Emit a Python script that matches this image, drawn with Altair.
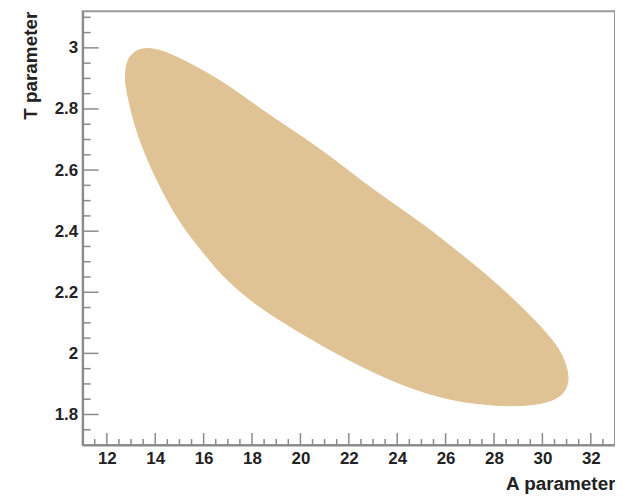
import altair as alt
import pandas as pd

# Contour outline (A parameter, T parameter), traced clockwise from the top apex
contour_a = [13.73, 14.42, 15.79, 17.16, 18.54, 19.91, 21.28, 22.66, 24.03, 25.40,
             26.4, 27.46, 28.84, 29.94, 30.76, 31.15,
             30.95, 30.21, 28.84, 27.46, 26.09, 24.72, 23.5, 21.8, 19.78, 18.26,
             16.89, 15.79, 15.0, 14.3, 13.75, 13.2, 12.9, 12.74, 12.8, 12.95, 13.3]
contour_t = [3.0, 2.989, 2.935, 2.870, 2.788, 2.718, 2.642, 2.555, 2.479, 2.403,
             2.338, 2.273, 2.175, 2.088, 2.012, 1.925,
             1.868, 1.836, 1.826, 1.833, 1.849, 1.882, 1.92, 1.985, 2.077, 2.153,
             2.241, 2.349, 2.43, 2.53, 2.62, 2.73, 2.83, 2.892, 2.945, 2.975, 2.995]

x_major = [12, 14, 16, 18, 20, 22, 24, 26, 28, 30, 32]
x_minor = [11, 11.5, 12.5, 13, 13.5, 14.5, 15, 15.5, 16.5, 17, 17.5, 18.5, 19, 19.5,
           20.5, 21, 21.5, 22.5, 23, 23.5, 24.5, 25, 25.5, 26.5, 27, 27.5, 28.5, 29,
           29.5, 30.5, 31, 31.5, 32.5]
y_major = [1.8, 2.0, 2.2, 2.4, 2.6, 2.8, 3.0]
y_minor = [1.75, 1.85, 1.9, 1.95, 2.05, 2.1, 2.15, 2.25, 2.3, 2.35, 2.45, 2.5, 2.55,
           2.65, 2.7, 2.75, 2.85, 2.9, 2.95, 3.05, 3.1]

X_DOM = [11, 33]
Y_DOM = [1.7, 3.12]
W, H = 535, 436
FONT = "Liberation Sans"
TICK_COLOR = "#8a8a8a"

df = pd.DataFrame({"i": range(len(contour_a)), "A": contour_a, "T": contour_t})

xs = alt.Scale(domain=X_DOM, nice=False, zero=False)
ys = alt.Scale(domain=Y_DOM, nice=False, zero=False)

x_axis = alt.Axis(values=x_major, format="d", ticks=False, grid=False,
                  domainColor=TICK_COLOR, domainWidth=2,
                  labelFont=FONT, labelFontSize=17, labelFontWeight="bold",
                  labelColor="#222", labelPadding=6,
                  titleFont=FONT, titleFontSize=19, titleFontWeight="bold",
                  titleColor="#222", titleAnchor="end", titleAlign="right",
                  titleX=W, titleY=39, titleBaseline="middle")
y_axis = alt.Axis(values=y_major, format=".1~f", ticks=False, grid=False,
                  domainColor=TICK_COLOR, domainWidth=2,
                  labelFont=FONT, labelFontSize=17, labelFontWeight="bold",
                  labelColor="#222", labelPadding=5,
                  titleFont=FONT, titleFontSize=19, titleFontWeight="bold",
                  titleColor="#222", titleAngle=270, titleAlign="right",
                  titleBaseline="middle", titleX=-52, titleY=0)


def X():
    return alt.X("A:Q", scale=xs, title="A parameter", axis=x_axis)


def Y():
    return alt.Y("T:Q", scale=ys, title="T parameter", axis=y_axis)


shape = alt.Chart(df).mark_line(
    fill="#DFC395", stroke="#DFC395", strokeWidth=1, interpolate="basis-closed"
).encode(x=X(), y=Y(), order="i:O")


def xticks(vals, length):
    return alt.Chart(pd.DataFrame({"A": vals})).mark_rule(
        color=TICK_COLOR, strokeWidth=1.5
    ).encode(x=X(), y=alt.value(H), y2=alt.value(H - length))


def yticks(vals, length):
    return alt.Chart(pd.DataFrame({"T": vals})).mark_rule(
        color=TICK_COLOR, strokeWidth=1.5
    ).encode(y=Y(), x=alt.value(0), x2=alt.value(length))


chart = alt.layer(
    shape,
    xticks(x_major, 12), xticks(x_minor, 6),
    yticks(y_major, 16), yticks(y_minor, 8),
).properties(
    width=W, height=H,
    autosize=alt.AutoSizeParams(type="none"),
    padding={"left": 75, "top": 2, "right": 0, "bottom": 50},
    background="white",
).configure_view(stroke="#9a9a9a", strokeWidth=2)

chart.save("out.html", embed_options={"renderer": "svg", "actions": False})
